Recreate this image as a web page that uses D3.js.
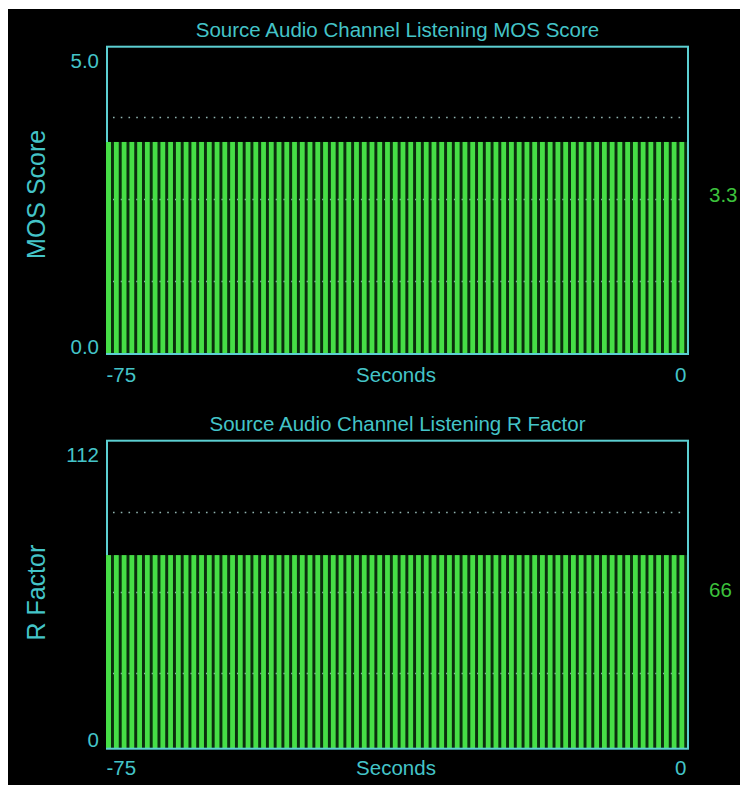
<!DOCTYPE html>
<html>
<head>
<meta charset="utf-8">
<script src="https://cdn.jsdelivr.net/npm/d3@7"></script>
<style>
  html, body { margin: 0; padding: 0; background: #ffffff; }
  svg { display: block; }
  text { font-family: "Liberation Sans", Arial, sans-serif; }
</style>
</head>
<body>
<svg id="chart" width="740" height="785"></svg>
<script>
// ---------- DATA ----------
const seconds = [-75,-74,-73,-72,-71,-70,-69,-68,-67,-66,-65,-64,-63,-62,-61,-60,-59,-58,-57,-56,
  -55,-54,-53,-52,-51,-50,-49,-48,-47,-46,-45,-44,-43,-42,-41,-40,-39,-38,-37,-36,
  -35,-34,-33,-32,-31,-30,-29,-28,-27,-26,-25,-24,-23,-22,-21,-20,-19,-18,-17,-16,
  -15,-14,-13,-12,-11,-10,-9,-8,-7,-6,-5,-4,-3,-2,-1];

const mosValues = [3.45,3.45,3.45,3.45,3.45,3.45,3.45,3.45,3.45,3.45,3.45,3.45,3.45,3.45,3.45,
  3.45,3.45,3.45,3.45,3.45,3.45,3.45,3.45,3.45,3.45,3.45,3.45,3.45,3.45,3.45,
  3.45,3.45,3.45,3.45,3.45,3.45,3.45,3.45,3.45,3.45,3.45,3.45,3.45,3.45,3.45,
  3.45,3.45,3.45,3.45,3.45,3.45,3.45,3.45,3.45,3.45,3.45,3.45,3.45,3.45,3.45,
  3.45,3.45,3.45,3.45,3.45,3.45,3.45,3.45,3.45,3.45,3.45,3.45,3.45,3.45,3.45];

const rValues = [70.4,70.4,70.4,70.4,70.4,70.4,70.4,70.4,70.4,70.4,70.4,70.4,70.4,70.4,70.4,
  70.4,70.4,70.4,70.4,70.4,70.4,70.4,70.4,70.4,70.4,70.4,70.4,70.4,70.4,70.4,
  70.4,70.4,70.4,70.4,70.4,70.4,70.4,70.4,70.4,70.4,70.4,70.4,70.4,70.4,70.4,
  70.4,70.4,70.4,70.4,70.4,70.4,70.4,70.4,70.4,70.4,70.4,70.4,70.4,70.4,70.4,
  70.4,70.4,70.4,70.4,70.4,70.4,70.4,70.4,70.4,70.4,70.4,70.4,70.4,70.4,70.4];

const mosDomain = [0, 5];
const rDomain = [0, 112];
const xDomain = [-75, 0];
const mosGrid = [3.85, 2.52, 1.19];
const rGrid = [86.2, 57.1, 27.5];
const mosTickLabels = ["0.0", "5.0"];
const rTickLabels = ["0", "112"];
const xTickLabels = ["-75", "0"];
const mosCurrent = "3.3";
const rCurrent = "66";
const titles = ["Source Audio Channel Listening MOS Score", "Source Audio Channel Listening R Factor"];
const yLabels = ["MOS Score", "R Factor"];
const xLabel = "Seconds";

// ---------- STYLE ----------
const TEAL = "#44c4c8";
const FRAME = "#5ccfd2";
const GREEN = "#46de46";
const DARKGREEN = "#0b2e0d";
const LABELGREEN = "#3cc23c";
const GRID = "#8fb2ae";
const FS = 20.5;

const svg = d3.select("#chart");
svg.append("rect").attr("x", 8).attr("y", 9).attr("width", 732).attr("height", 776).attr("fill", "#000");

function panel(cfg) {
  const left = 107, right = 688;
  const x = d3.scaleLinear().domain(xDomain).range([left, right]);
  const y = d3.scaleLinear().domain(cfg.domain).range([cfg.bottom, cfg.top]);
  const g = svg.append("g");
  const step = x(1) - x(0);
  const bw = step * 0.62;
  const maxVal = d3.max(cfg.values);

  // dark area behind bars
  g.append("rect")
    .attr("x", left).attr("y", y(maxVal))
    .attr("width", right - left).attr("height", cfg.bottom - y(maxVal))
    .attr("fill", DARKGREEN);

  // dotted grid lines
  g.selectAll("line.grid").data(cfg.grid).enter().append("line")
    .attr("class", "grid")
    .attr("x1", left + 6).attr("x2", right - 2)
    .attr("y1", d => Math.round(y(d)) + 0.5).attr("y2", d => Math.round(y(d)) + 0.5)
    .attr("stroke", GRID).attr("stroke-width", 1.6)
    .attr("stroke-dasharray", `1.6,${(step - 1.6).toFixed(3)}`);

  // bars
  g.selectAll("rect.bar").data(cfg.values).enter().append("rect")
    .attr("class", "bar")
    .attr("x", (d, i) => x(seconds[i]) - 0.8)
    .attr("width", bw)
    .attr("y", d => y(d))
    .attr("height", d => cfg.bottom - y(d))
    .attr("fill", GREEN);

  // frame
  g.append("rect")
    .attr("x", left).attr("y", cfg.top)
    .attr("width", right - left).attr("height", cfg.bottom - cfg.top)
    .attr("fill", "none").attr("stroke", FRAME).attr("stroke-width", 2);

  // left green edge over frame inside bar area
  g.append("line")
    .attr("x1", left).attr("x2", left)
    .attr("y1", y(maxVal)).attr("y2", cfg.bottom - 1)
    .attr("stroke", GREEN).attr("stroke-width", 2);

  // title
  g.append("text")
    .attr("x", (left + right) / 2).attr("y", cfg.top - 10)
    .attr("text-anchor", "middle").attr("fill", TEAL)
    .attr("font-size", FS).text(cfg.title);

  // y axis (end ticks only)
  const yAxis = d3.axisLeft(y).tickValues(cfg.domain).tickSize(0).tickPadding(0)
    .tickFormat((d, i) => cfg.yTicks[i]);
  const ya = g.append("g").attr("transform", `translate(${left - 8},0)`).call(yAxis);
  ya.select(".domain").remove();
  ya.selectAll("text")
    .attr("fill", TEAL).attr("font-size", FS)
    .attr("font-family", "Liberation Sans, Arial, sans-serif")
    .attr("dy", null)
    .attr("y", (d) => d === cfg.domain[1] ? cfg.topLabelDy : cfg.bottomLabelDy);

  // x axis (end ticks only)
  const xAxis = d3.axisBottom(x).tickValues(xDomain).tickSize(0).tickPadding(0)
    .tickFormat((d, i) => xTickLabels[i]);
  const xa = g.append("g").attr("transform", `translate(0,${cfg.bottom})`).call(xAxis);
  xa.select(".domain").remove();
  xa.selectAll("text")
    .attr("fill", TEAL).attr("font-size", FS)
    .attr("font-family", "Liberation Sans, Arial, sans-serif")
    .attr("dy", null).attr("y", cfg.xLabelDy)
    .attr("text-anchor", d => d === xDomain[0] ? "start" : "end")
    .attr("x", d => d === xDomain[0] ? -1 : -2);

  g.append("text")
    .attr("x", 396).attr("y", cfg.bottom + cfg.xLabelDy)
    .attr("text-anchor", "middle").attr("fill", TEAL)
    .attr("font-size", FS).text(xLabel);

  // y label
  const cy = (cfg.top + cfg.bottom) / 2 + cfg.yLabelShift;
  g.append("text")
    .attr("transform", `translate(45,${cy}) rotate(-90)`)
    .attr("text-anchor", "middle").attr("fill", TEAL)
    .attr("font-size", 25).text(cfg.yLabel);

  // current value label
  g.append("text")
    .attr("x", 709).attr("y", (cfg.top + cfg.bottom) / 2 + 2)
    .attr("fill", LABELGREEN).attr("font-size", FS).text(cfg.current);
}

panel({
  top: 46.7, bottom: 354, domain: mosDomain, values: mosValues, grid: mosGrid,
  title: titles[0], yTicks: mosTickLabels, yLabel: yLabels[0], current: mosCurrent,
  topLabelDy: 20.5, bottomLabelDy: -1, xLabelDy: 28, yLabelShift: -6
});
panel({
  top: 440.7, bottom: 748.7, domain: rDomain, values: rValues, grid: rGrid,
  title: titles[1], yTicks: rTickLabels, yLabel: yLabels[1], current: rCurrent,
  topLabelDy: 21.3, bottomLabelDy: -2.7, xLabelDy: 26.5, yLabelShift: -2
});
</script>
</body>
</html>
